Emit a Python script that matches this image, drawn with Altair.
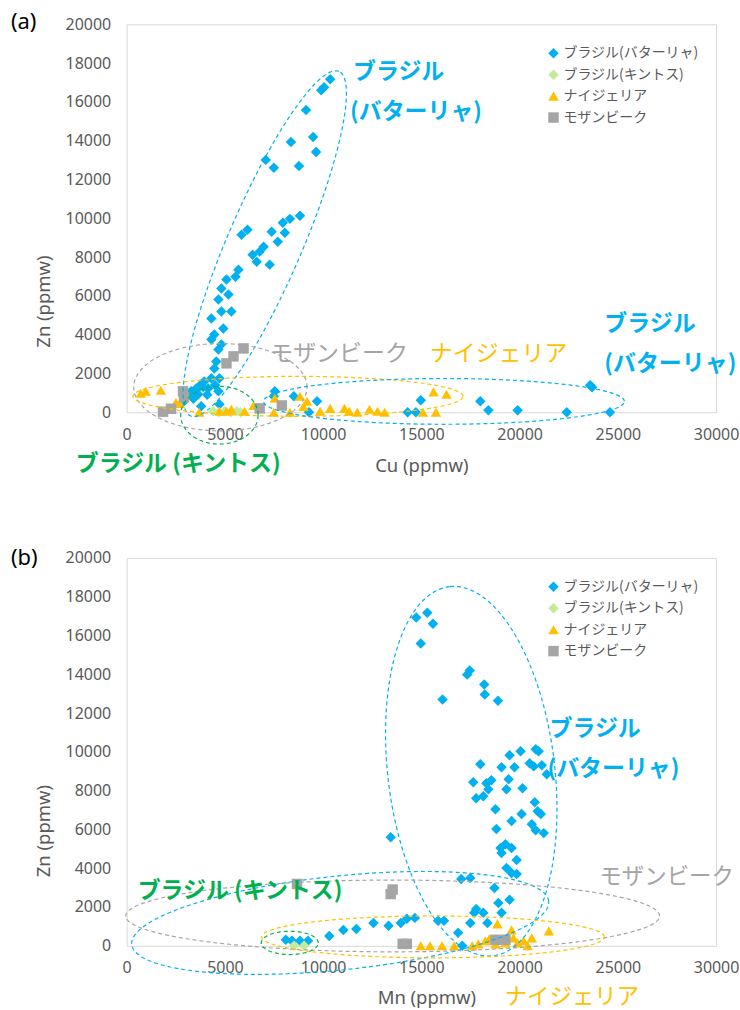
import altair as alt
import numpy as np
import pandas as pd

JP = "Noto Sans CJK JP"
NUM = "Noto Sans"
GREY_TXT = "#595959"

SERIES = ["ブラジル(バターリャ)", "ブラジル(キントス)", "ナイジェリア", "モザンビーク"]
COLORS = ["#00B0F0", "#C3EC9A", "#FFC000", "#A5A5A5"]
SHAPES = ["diamond", "diamond", "triangle-up", "square"]
SIZES = [110, 110, 120, 70]

X_TICKS = [0, 5000, 10000, 15000, 20000, 25000, 30000]
Y_TICKS = [0, 2000, 4000, 6000, 8000, 10000, 12000, 14000, 16000, 18000, 20000]

# ---------------- (a) Cu vs Zn ----------------
cu_a_bat = [10360, 10050, 9900, 9130, 8360, 9490, 9640, 7080, 7490, 8770,
            8820, 8310, 7950, 8050, 7380, 7690, 6150, 5850, 6970, 6770,
            6410, 6620, 7280, 5690, 5540, 5080, 4820, 5180, 4670, 5330,
            4820, 4310, 4920, 4460, 4310, 4820, 4670, 4560, 4460, 4720,
            4310, 3950, 3790, 3540, 3280, 3640, 3030, 4150, 4670, 2920,
            3790, 4720, 3400, 4100, 4500, 3900, 7540, 7490, 8510, 9690,
            9280, 14300, 14720, 14970, 18000, 18410, 19900, 22400, 23690, 23590,
            24600]
zn_a_bat = [17170, 16760, 16600, 15580, 13930, 14190, 13420, 13010, 12600, 12700,
            10130, 9970, 9770, 9250, 9310, 8790, 9410, 9150, 8530, 8280,
            8120, 7760, 7610, 7350, 6990, 6840, 6380, 6070, 5810, 5190,
            5190, 4830, 4320, 4010, 3750, 3500, 3240, 2620, 2260, 1750,
            1750, 1590, 1440, 1230, 1080, 925, 925, 1230, 1080, 570,
            310, 410, 700, 900, 1400, 1300, 1080, 820, 820, 570,
            0, 0, 0, 620, 570, 100, 100, 0, 1290, 1390,
            0]
cu_a_qin = [4400, 4700, 5000, 5300, 5600, 5800]
zn_a_qin = [50, 0, 50, 0, 50, 0]
cu_a_nga = [720, 970, 1740, 2510, 2700, 3690, 4720, 5080, 5330, 6000,
            6460, 7540, 7490, 8310, 8820, 9180, 9000, 9850, 10360, 11080,
            11330, 11740, 12360, 12770, 13130, 15080, 15740, 15620, 16280]
zn_a_nga = [980, 1080, 1130, 510, 450, 0, 50, 50, 150, 50,
            350, 720, 0, 0, 820, 570, 300, 50, 200, 200,
            50, 0, 150, 50, 0, 0, 0, 1050, 930]
cu_a_moz = [5950, 5440, 5080, 2870, 2920, 2260, 1850, 6770, 7900]
zn_a_moz = [3290, 2880, 2520, 1080, 770, 180, 30, 200, 350]

# ---------------- (b) Mn vs Zn ----------------
mn_b_bat = [14740, 15300, 15590, 14970, 16080, 17330, 17460, 18200, 18230, 18900,
            18000, 19490, 20050, 20820, 20970, 19080, 19740, 20510, 20720, 21130,
            21380, 17640, 18310, 18560, 18410, 19440, 19330, 20150, 17790, 18150,
            18770, 20770, 20920, 21080, 19590, 20100, 20620, 20820, 21230, 18820,
            19030, 19280, 19590, 19080, 19850, 19330, 19590, 19850, 13440, 17030,
            17490, 18720, 18920, 19490, 17790, 19080, 17690, 18150, 12560, 13330,
            13950, 14260, 14670, 15850, 16150, 17490, 18360, 16870, 17080, 10310,
            11030, 11690, 8100, 8410, 8820, 9230]
zn_b_bat = [16930, 17170, 16600, 15580, 12700, 13980, 14190, 13470, 12960, 12630,
            9360, 9820, 10030, 10130, 10030, 9200, 9200, 9410, 9250, 9310,
            8840, 8430, 8380, 8530, 8070, 8590, 8070, 8120, 7610, 7710,
            7040, 7400, 6940, 6790, 6430, 6790, 6270, 5960, 5810, 6020,
            5040, 5240, 5040, 4780, 4420, 4010, 3750, 3700, 5600, 3440,
            3500, 2980, 2210, 2370, 1900, 1700, 1700, 1700, 1180, 1030,
            1180, 1390, 1440, 1290, 1290, 1180, 1180, 670, 0, 510,
            820, 870, 310, 260, 260, 260]
mn_b_qin = [8510, 9030]
zn_b_qin = [0, 0]
mn_b_nga = [14970, 15440, 16050, 16670, 17590, 17900, 18260, 18460, 18870, 19590,
            19690, 19900, 20210, 20620, 20410, 19280, 18770, 21490]
zn_b_nga = [0, 0, 0, 0, 0, 100, 260, 360, 1130, 820,
            410, 150, 260, 410, 0, 150, 100, 770]
mn_b_moz = [8670, 13440, 13540, 14050, 14260, 18770, 19280]
zn_b_moz = [3190, 2670, 2900, 100, 100, 310, 310]

# grouping ellipses: centre x, centre y, semi-axis a, semi-axis b, rotation (deg)
ELL_A = [
    ("#00B0F0", 7030, 8690, 9650, 1900, 67),
    ("#A5A5A5", 4770, 1290, 4410, 2250, 0),
    ("#FFC000", 8720, 820, 8400, 1030, 0),
    ("#00B050", 4720, -150, 1970, 1490, 0),
    ("#00B0F0", 16150, 560, 9180, 1180, 0),
]
ELL_B = [
    ("#00B0F0", 17540, 9000, 9580, 4250, 96.6),
    ("#00B0F0", 10870, 1180, 10670, 2420, 6),
    ("#A5A5A5", 13540, 1540, 13590, 1850, 0),
    ("#FFC000", 15590, 460, 8720, 1080, 0),
    ("#00B050", 8300, 150, 1450, 600, 0),
]


def series_frame(groups):
    rows = []
    for name, xs, ys in groups:
        rows += [{"x": x, "y": y, "s": name} for x, y in zip(xs, ys)]
    return pd.DataFrame(rows)


def ellipse_frame(cx, cy, a, b, deg):
    t = np.linspace(0, 2 * np.pi, 181)
    th = np.deg2rad(deg)
    x = cx + a * np.cos(t) * np.cos(th) - b * np.sin(t) * np.sin(th)
    y = cy + a * np.cos(t) * np.sin(th) + b * np.sin(t) * np.cos(th)
    return pd.DataFrame({"x": x, "y": y, "i": np.arange(len(t))})


def label(text, px, py, color, size, weight="normal", angle=0, align="left", font=JP):
    return alt.Chart(pd.DataFrame({"t": [text]})).mark_text(
        align=align, baseline="middle", color=color, fontSize=size,
        fontWeight=weight, font=font, angle=angle,
    ).encode(x=alt.value(px), y=alt.value(py), text="t:N")


def legend():
    return alt.Legend(
        title=None, orient="none", legendX=421, legendY=22,
        labelFont=JP, labelFontSize=14, labelColor=GREY_TXT, labelOffset=3,
        symbolSize=45, rowPadding=7.5, padding=0, symbolStrokeWidth=0,
    )


COMMON_AXIS = dict(title=None, domain=False, ticks=False, grid=False, format="d",
                   labelFont=NUM, labelFontSize=16, labelColor=GREY_TXT,
                   labelOverlap=False, labelFlush=False)
XS = alt.Scale(domain=[0, 30000], nice=False)
YS = alt.Scale(domain=[0, 20000], nice=False)


def xenc():
    return alt.X("x:Q", scale=XS, axis=alt.Axis(values=X_TICKS, labelPadding=14, **COMMON_AXIS))


def yenc():
    return alt.Y("y:Q", scale=YS, axis=alt.Axis(values=Y_TICKS, labelPadding=16, **COMMON_AXIS))


def panel(df, ellipses, texts):
    pts = alt.Chart(df).mark_point(filled=True, opacity=1, strokeWidth=0).encode(
        x=xenc(),
        y=yenc(),
        color=alt.Color("s:N", scale=alt.Scale(domain=SERIES, range=COLORS), legend=legend()),
        shape=alt.Shape("s:N", scale=alt.Scale(domain=SERIES, range=SHAPES), legend=legend()),
        size=alt.Size("s:N", scale=alt.Scale(domain=SERIES, range=SIZES), legend=None),
        order=alt.Order("o:Q"),
    ).transform_calculate(o="indexof(%s, datum.s)" % str(SERIES))
    layers = [pts]
    for col, cx, cy, a, b, deg in ellipses:
        layers.append(
            alt.Chart(ellipse_frame(cx, cy, a, b, deg)).mark_line(
                stroke=col, strokeWidth=1.2, strokeDash=[4, 3], clip=False
            ).encode(x=xenc(), y=yenc(), order="i:Q")
        )
    layers += texts
    return alt.layer(*layers).properties(width=591, height=389)


df_a = series_frame([
    (SERIES[0], cu_a_bat, zn_a_bat), (SERIES[1], cu_a_qin, zn_a_qin),
    (SERIES[2], cu_a_nga, zn_a_nga), (SERIES[3], cu_a_moz, zn_a_moz),
])
df_b = series_frame([
    (SERIES[0], mn_b_bat, zn_b_bat), (SERIES[1], mn_b_qin, zn_b_qin),
    (SERIES[2], mn_b_nga, zn_b_nga), (SERIES[3], mn_b_moz, zn_b_moz),
])

BLUE, GREEN, ORANGE, GREY = "#00B0F0", "#00B050", "#FFC000", "#A5A5A5"

texts_a = [
    label("(a)", -116, -2, "#000000", 22, font=NUM),
    label("Zn (ppmw)", -83, 278, GREY_TXT, 18.5, angle=270, align="center", font=NUM),
    label("Cu (ppmw)", 296, 443, GREY_TXT, 18.5, align="center", font=NUM),
    label("ブラジル", 227, 48, BLUE, 23, "bold"),
    label("(バターリャ)", 224, 88, BLUE, 23, "bold"),
    label("モザンビーク", 144, 331, GREY, 23),
    label("ナイジェリア", 304, 331, ORANGE, 23),
    label("ブラジル", 479, 301, BLUE, 23, "bold"),
    label("(バターリャ)", 479, 341, BLUE, 23, "bold"),
    label("ブラジル (キントス)", -51, 441, GREEN, 23, "bold"),
]
texts_b = [
    label("(b)", -116, 0, "#000000", 22, font=NUM),
    label("Zn (ppmw)", -83, 274, GREY_TXT, 18.5, angle=270, align="center", font=NUM),
    label("Mn (ppmw)", 301, 441, GREY_TXT, 18.5, align="center", font=NUM),
    label("ブラジル", 424, 172, BLUE, 23, "bold"),
    label("(バターリャ)", 422, 212, BLUE, 23, "bold"),
    label("モザンビーク", 474, 320, GREY, 22.5),
    label("ブラジル (キントス)", 11, 334, GREEN, 23, "bold"),
    label("ナイジェリア", 379, 440, ORANGE, 22.5),
]

chart = alt.vconcat(
    panel(df_a, ELL_A, texts_a),
    panel(df_b, ELL_B, texts_b),
    spacing=69,
).resolve_scale(
    color="independent", shape="independent", size="independent"
).resolve_legend(
    color="independent", shape="independent", size="independent"
).properties(
    padding={"left": 10, "top": 9, "right": 0, "bottom": 0}
).configure_view(
    stroke="#D9D9D9", strokeWidth=1
)

chart.save("out.html", embed_options={"renderer": "svg", "actions": False})
